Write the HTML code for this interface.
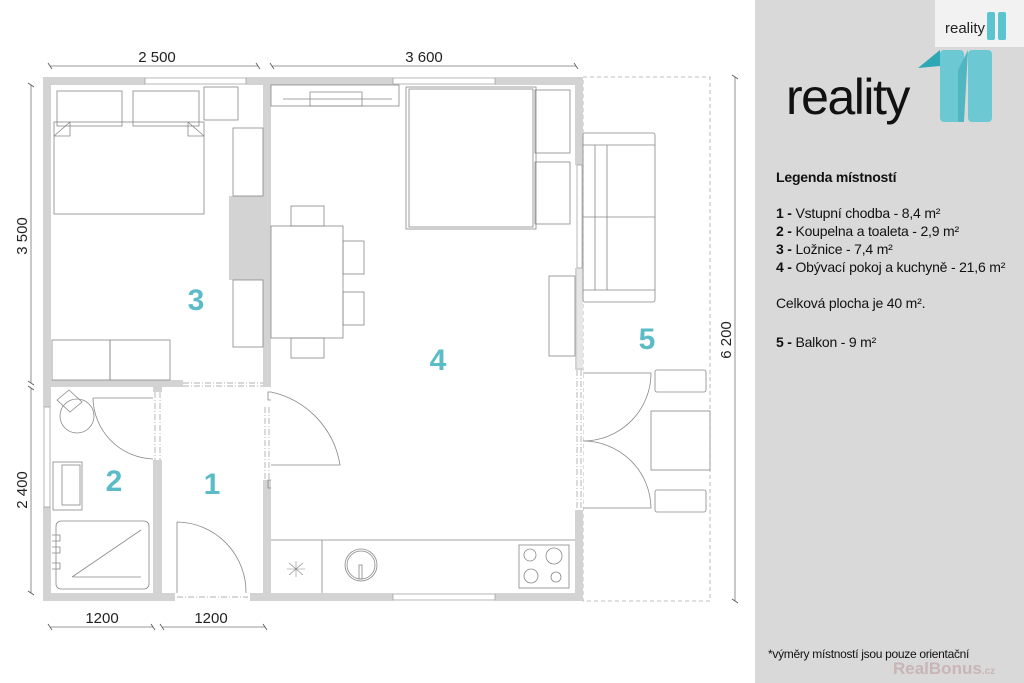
<!DOCTYPE html>
<html><head><meta charset="utf-8"><style>
html,body{margin:0;padding:0;background:#fff;}
body{width:1024px;height:683px;position:relative;overflow:hidden;font-family:"Liberation Sans",sans-serif;}
#panel{position:absolute;left:755px;top:0;width:269px;height:683px;background:#d9d9d9;}
.leg{position:absolute;left:776px;font-size:14px;color:#111;line-height:18px;letter-spacing:-0.2px}
</style></head><body>
<svg width="1024" height="683" style="position:absolute;left:0;top:0" xmlns="http://www.w3.org/2000/svg">
<g fill="none" stroke="#777" stroke-width="0.8">
<line x1="50" y1="66" x2="258" y2="66"/><line x1="272" y1="66" x2="576" y2="66"/>
<line x1="31" y1="85" x2="31" y2="383"/><line x1="31" y1="388" x2="31" y2="593"/>
<line x1="50" y1="627" x2="153" y2="627"/><line x1="162" y1="627" x2="265" y2="627"/>
<line x1="735" y1="77" x2="735" y2="601"/>
<g stroke="#555"><path d="M48 63l4 6M256 63l4 6M270 63l4 6M574 63l4 6M28 83l6 4M28 381l6 4M28 386l6 4M28 591l6 4M48 624l4 6M151 624l4 6M160 624l4 6M263 624l4 6M732 75l6 4M732 599l6 4"/></g>
</g>
<rect x="583" y="77" width="127" height="524" fill="none" stroke="#aaa" stroke-dasharray="4,3" stroke-width="0.8"/>
<g fill="#d3d3d3">
<rect x="43" y="77" width="540" height="8"/>
<rect x="43" y="593" width="540" height="8"/>
<rect x="43" y="77" width="8" height="524"/>
<rect x="575" y="77" width="8" height="524"/>
<rect x="263" y="77" width="8" height="310"/>
<rect x="263" y="480" width="8" height="121"/>
<rect x="43" y="380" width="140" height="7"/>
<rect x="153" y="387" width="9" height="5"/>
<rect x="153" y="460" width="9" height="141"/>
<rect x="229" y="196" width="42" height="84"/>
</g>
<g fill="#fff">
<rect x="145" y="77" width="101" height="8"/>
<rect x="393" y="77" width="102" height="8"/>
<rect x="393" y="593" width="102" height="8"/>
<rect x="43" y="407" width="8" height="100"/>
<rect x="175" y="593" width="75" height="8"/>
<rect x="183" y="380" width="80" height="7"/>
<rect x="263" y="407" width="8" height="73"/>
<rect x="153" y="392" width="9" height="68"/>
<rect x="575" y="165" width="8" height="103"/>
<rect x="575" y="370" width="8" height="140"/>
</g>
<rect x="577" y="268" width="6" height="100" fill="#e6e6e6"/>
<g fill="none" stroke="#999" stroke-width="0.7">
<rect x="145" y="78" width="101" height="6"/><rect x="393" y="78" width="102" height="6"/><rect x="393" y="594" width="102" height="6"/>
<rect x="44" y="407" width="6" height="100"/><rect x="577" y="165" width="5" height="103"/>
<path d="M183 383H263M183 386H263M155 392V460M160 392V460M265 407V480M269 407V480M577 370V510M581 370V510M177 597H248" stroke-dasharray="6,2,1,2"/>
</g>
<g fill="none" stroke="#888" stroke-width="0.8">
<rect x="57" y="91" width="65" height="35"/><rect x="133" y="91" width="66" height="35"/><rect x="204" y="87" width="34" height="33"/>
<rect x="54" y="122" width="150" height="92"/><path d="M54 136L70 122M204 136L188 122M70 122V136H54M188 122V136H204"/>
<rect x="233" y="128" width="30" height="68"/><rect x="233" y="280" width="30" height="67"/>
<rect x="52" y="340" width="58" height="40"/><rect x="110" y="340" width="60" height="40"/>
<rect x="271" y="85" width="128" height="21"/><path d="M283 99H392M310 92H362V106H310z"/>
<rect x="406" y="87" width="130" height="142"/><rect x="409" y="89" width="124" height="138"/>
<rect x="535" y="90" width="35" height="63"/><rect x="535" y="162" width="35" height="62"/>
<rect x="271" y="226" width="72" height="112"/>
<rect x="291" y="206" width="33" height="20"/><rect x="291" y="338" width="33" height="20"/>
<rect x="343" y="241" width="21" height="33"/><rect x="343" y="292" width="21" height="33"/>
<path d="M271 392H268V400H271M271 480H268V488H271"/>
<path d="M271 392 A89 89 0 0 1 340 465 H271"/>
<rect x="549" y="276" width="26" height="80"/>
<path d="M271 540H575M322 540V593"/>
<circle cx="361" cy="565" r="16"/><circle cx="361" cy="565" r="14"/><rect x="359" y="565" width="3" height="14"/>
<rect x="519" y="545" width="50" height="43"/><circle cx="530" cy="555" r="6"/><circle cx="554" cy="556" r="8"/><circle cx="531" cy="576" r="7"/><circle cx="556" cy="577" r="5"/>
<path d="M289 563L303 575M303 563L289 575M296 561V577M287 569H305" stroke-width="0.6"/>
<path d="M93 398 A62 62 0 0 0 153 459"/>
<path d="M93 398 H153"/>
<circle cx="77" cy="416" r="17"/><path d="M57 400L69 390L82 402L70 412z"/>
<rect x="53" y="462" width="29" height="48"/><rect x="62" y="465" width="18" height="40"/>
<rect x="56" y="521" width="93" height="68" rx="5"/><path d="M72 577L141 530M73 577H141"/>
<path d="M52 535h8v6h-8M52 547h8v6h-8M52 563h8v6h-8"/>
<path d="M177 522 A70 70 0 0 1 246 593 M177 522V593"/>
<rect x="583" y="133" width="72" height="169" rx="2"/>
<path d="M583 145H655M583 290H655M607 145V290M595 145V290M583 217H655"/>
<path d="M583 373H651 A68 68 0 0 1 583 441 A68 68 0 0 1 651 508 H583"/>
<rect x="655" y="370" width="51" height="22" rx="2"/><rect x="655" y="490" width="51" height="22" rx="2"/>
<rect x="651" y="411" width="59" height="59" fill="#fff"/>
</g>
<g fill="#5bbcc8" font-family="Liberation Sans,sans-serif" font-weight="bold" font-size="30" text-anchor="middle">
<text x="196" y="310">3</text><text x="114" y="491">2</text><text x="212" y="494">1</text><text x="438" y="370">4</text><text x="647" y="349">5</text>
</g>
<g fill="#222" font-family="Liberation Sans,sans-serif" font-size="15" text-anchor="middle">
<text x="157" y="62">2 500</text><text x="424" y="62">3 600</text>
<text x="102" y="623">1200</text><text x="211" y="623">1200</text>
<text transform="translate(27,236) rotate(-90)">3 500</text>
<text transform="translate(27,490) rotate(-90)">2 400</text>
<text transform="translate(731,340) rotate(-90)">6 200</text>
</g>
</svg>
<div id="panel"></div>
<div style="position:absolute;left:935px;top:0;width:89px;height:47px;background:#f2f2f2"></div>
<div style="position:absolute;left:945px;top:20px;font-size:15px;color:#222">reality</div>
<div style="position:absolute;left:987px;top:12px;width:8px;height:28px;background:#5bc4cf;border-radius:2px"></div>
<div style="position:absolute;left:998px;top:12px;width:8px;height:28px;background:#5bc4cf;border-radius:2px"></div>
<div style="position:absolute;left:786px;top:68px;font-size:50px;color:#111;letter-spacing:-1.5px">reality</div>
<svg style="position:absolute;left:918px;top:48px" width="80" height="80"><path d="M0 20 L22 2 V18z" fill="#2fa8b5"/><rect x="22" y="2" width="24" height="72" rx="4" fill="#6cc9d3"/><rect x="50" y="2" width="24" height="72" rx="4" fill="#6cc9d3"/><path d="M50 2 L40 22 V74 H46z" fill="#4fb6c2"/></svg>
<div class="leg" style="top:168px;font-weight:bold">Legenda místností</div>
<div class="leg" style="top:204px"><b>1 -</b> Vstupní chodba - 8,4 m²<br><b>2 -</b> Koupelna a toaleta - 2,9 m²<br><b>3 -</b> Ložnice - 7,4 m²<br><b>4 -</b> Obývací pokoj a kuchyně - 21,6 m²</div>
<div class="leg" style="top:294px">Celková plocha je 40 m².</div>
<div class="leg" style="top:333px"><b>5 -</b> Balkon - 9 m²</div>
<div class="leg" style="top:645px;left:768px;font-size:12px;letter-spacing:-0.3px">*výměry místností jsou pouze orientační</div>
<div style="position:absolute;left:893px;top:659px;font-size:17px;font-weight:bold;color:#c9b5b5">RealBonus<span style="font-size:10px">.cz</span></div>
</body></html>
